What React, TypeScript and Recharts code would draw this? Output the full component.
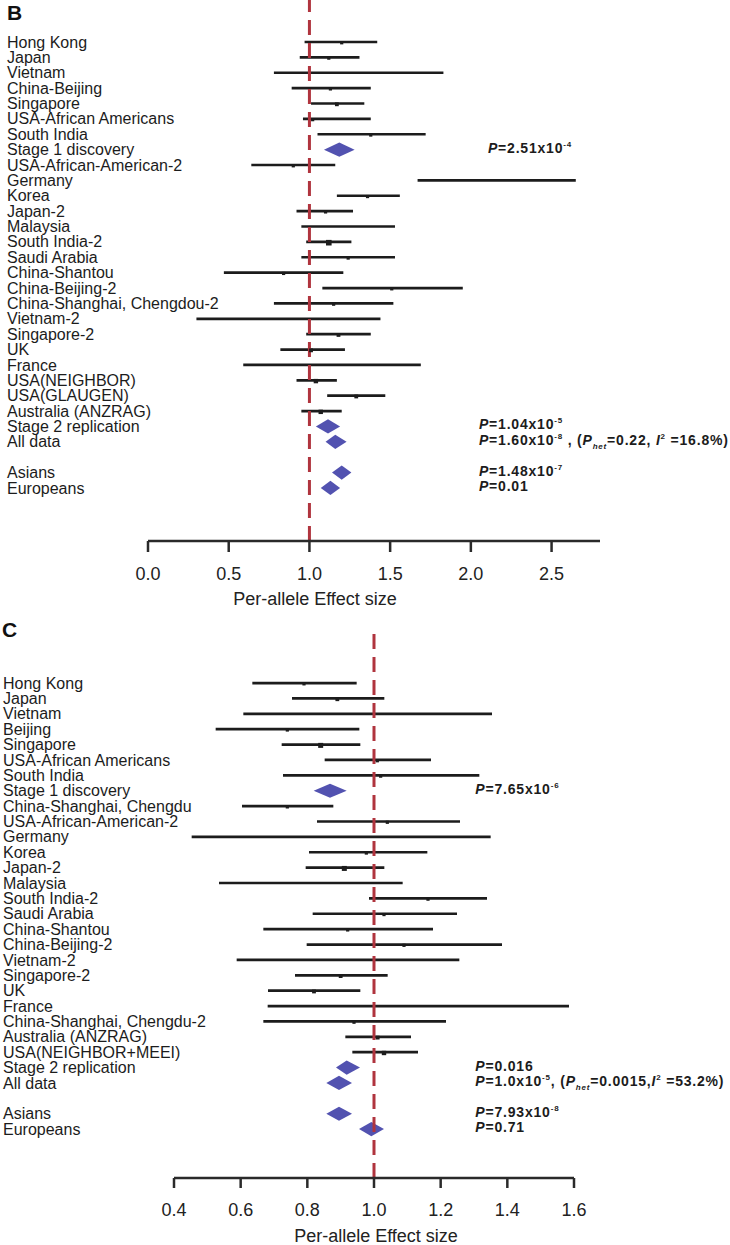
import React from 'react'
import {
  ScatterChart, Scatter, XAxis, YAxis, ReferenceLine, ReferenceArea, ReferenceDot,
} from 'recharts'

const FONT = "'Liberation Sans', Arial, Helvetica, sans-serif"
const INK = '#1c1c1c'
const DIAMOND_FILL = '#5252b0'
const NULL_LINE = '#b0343e'

// rows that are pooled estimates (drawn as diamonds)
const POOLED = ['Stage 1 discovery', 'Stage 2 replication', 'All data', 'Asians', 'Europeans']

// ── Panel B ────────────────────────────────────────────────────────────────
const B_LABELS = [
  'Hong Kong', 'Japan', 'Vietnam', 'China-Beijing', 'Singapore', 'USA-African Americans',
  'South India', 'Stage 1 discovery', 'USA-African-American-2', 'Germany', 'Korea', 'Japan-2',
  'Malaysia', 'South India-2', 'Saudi Arabia', 'China-Shantou', 'China-Beijing-2',
  'China-Shanghai, Chengdou-2', 'Vietnam-2', 'Singapore-2', 'UK', 'France', 'USA(NEIGHBOR)',
  'USA(GLAUGEN)', 'Australia (ANZRAG)', 'Stage 2 replication', 'All data', '', 'Asians', 'Europeans',
]
const B_EST = [1.20, 1.12, 1.20, 1.13, 1.17, 1.02, 1.38, 1.185, 0.90, 2.10, 1.36, 1.10, 1.20, 1.12, 1.24,
  0.84, 1.51, 1.15, 0.66, 1.18, 1.01, 1.02, 1.04, 1.29, 1.07, 1.115, 1.16, null, 1.20, 1.13]
const B_LO = [0.97, 0.94, 0.78, 0.89, 1.01, 0.96, 1.05, 1.09, 0.64, 1.67, 1.17, 0.92, 0.95, 0.98, 0.95,
  0.47, 1.08, 0.78, 0.30, 0.98, 0.82, 0.59, 0.92, 1.11, 0.95, 1.04, 1.10, null, 1.14, 1.07]
const B_HI = [1.42, 1.31, 1.83, 1.38, 1.34, 1.38, 1.72, 1.28, 1.16, 2.65, 1.56, 1.27, 1.53, 1.26, 1.53,
  1.21, 1.95, 1.52, 1.44, 1.38, 1.22, 1.69, 1.17, 1.47, 1.20, 1.19, 1.23, null, 1.26, 1.19]
// relative study weight (0 = marker too small to see)
const B_WEIGHT = [1, 1, 0, 1, 1.5, 1, 1, 0, 1, 0, 1, 1, 0, 3, 1, 1, 1, 1, 0, 1.5, 1.5, 0, 2, 1.5, 2, 0, 0, 0, 0, 0]
const B_TICKS = [0, 0.5, 1, 1.5, 2, 2.5]
const B_P_MANT = ['2.51', '1.04', '1.60', '1.48', '0.01']
const B_P_EXP = ['-4', '-5', '-8', '-7', '']
const B_HET = ['0.22', '16.8%']

// ── Panel C ────────────────────────────────────────────────────────────────
const C_LABELS = [
  'Hong Kong', 'Japan', 'Vietnam', 'Beijing', 'Singapore', 'USA-African Americans', 'South India',
  'Stage 1 discovery', 'China-Shanghai, Chengdu', 'USA-African-American-2', 'Germany', 'Korea',
  'Japan-2', 'Malaysia', 'South India-2', 'Saudi Arabia', 'China-Shantou', 'China-Beijing-2',
  'Vietnam-2', 'Singapore-2', 'UK', 'France', 'China-Shanghai, Chengdu-2', 'Australia (ANZRAG)',
  'USA(NEIGHBOR+MEEI)', 'Stage 2 replication', 'All data', '', 'Asians', 'Europeans',
]
const C_EST = [0.79, 0.89, 0.92, 0.74, 0.84, 1.01, 1.02, 0.868, 0.74, 1.04, 0.78, 0.977, 0.911, 0.77,
  1.162, 1.03, 0.921, 1.09, 0.86, 0.90, 0.82, 1.04, 0.94, 1.011, 1.03, 0.918, 0.895, null, 0.895, 0.992]
const C_LO = [0.635, 0.754, 0.608, 0.525, 0.723, 0.852, 0.727, 0.819, 0.604, 0.829, 0.453, 0.805, 0.795,
  0.535, 0.985, 0.816, 0.668, 0.798, 0.588, 0.763, 0.682, 0.681, 0.668, 0.914, 0.935, 0.886, 0.857, null,
  0.857, 0.955]
const C_HI = [0.948, 1.031, 1.354, 0.956, 0.959, 1.171, 1.316, 0.918, 0.878, 1.258, 1.35, 1.16, 1.031,
  1.086, 1.339, 1.249, 1.177, 1.384, 1.256, 1.041, 0.959, 1.585, 1.216, 1.111, 1.132, 0.958, 0.934, null,
  0.934, 1.03]
const C_WEIGHT = [1, 1.5, 0, 1, 2.5, 1, 1, 0, 1, 1, 0, 1, 2.5, 0, 1, 1, 1, 1, 0, 1.5, 1.5, 0, 1, 1.5, 2, 0, 0, 0, 0, 0]
const C_TICKS = [0.4, 0.6, 0.8, 1.0, 1.2, 1.4, 1.6]
const C_P_MANT = ['7.65', '0.016', '1.0', '7.93', '0.71']
const C_P_EXP = ['-6', '', '-5', '-8', '']
const C_HET = ['0.0015', '53.2%']

interface Row { row: number; label: string; est: number; lo: number; hi: number; w: number; pooled: boolean }

function buildRows(labels: string[], est: any[], lo: any[], hi: any[], w: number[]): Row[] {
  return labels
    .map((label, i) => ({ row: i, label, est: est[i], lo: lo[i], hi: hi[i], w: w[i], pooled: POOLED.includes(label) }))
    .filter((r) => r.label !== '')
}

// ── Shapes ─────────────────────────────────────────────────────────────────
function LabelTick({ y, payload, labelX, names }: any) {
  return (
    <text x={labelX} y={y} dy="0.35em" fontFamily={FONT} fontSize={16} fill={INK} textAnchor="start">
      {names[payload.value]}
    </text>
  )
}

function PanelLetter({ letter, lx, ly }: any) {
  return (
    <text x={lx} y={ly} fontFamily={FONT} fontSize={21} fontWeight="bold" fill="#111">{letter}</text>
  )
}

function Diamond({ x, y, width, height, frac }: any) {
  const cx = x + width * frac
  const cy = y + height / 2
  return <polygon points={`${x},${cy} ${cx},${y} ${x + width},${cy} ${cx},${y + height}`} fill={DIAMOND_FILL} />
}

function Marker({ cx, cy, payload }: any) {
  const s = 2 + 1.2 * payload.w
  return <rect x={cx - s / 2} y={cy - s / 2 + 0.8} width={s} height={s} fill={INK} />
}

function PText({ cx, cy, mant, exp, het, hetGap, iGap }: any) {
  return (
    <text x={cx} y={cy + 3} fontFamily={FONT} fontSize={14} fontWeight="bold" fill={INK}
      style={{ letterSpacing: 0.8, whiteSpace: 'pre' }}>
      <tspan fontStyle="italic">P</tspan>
      <tspan>={mant}</tspan>
      {exp && <tspan>x10</tspan>}
      {exp && <tspan dy={-6} fontSize={8}>{exp}</tspan>}
      {het && <tspan dy={6}>{hetGap}</tspan>}
      {het && <tspan fontStyle="italic">P</tspan>}
      {het && <tspan dy={4} fontSize={8} fontStyle="italic">het</tspan>}
      {het && <tspan dy={-4}>={het[0]},{iGap}</tspan>}
      {het && <tspan fontStyle="italic">I</tspan>}
      {het && <tspan dy={-6} fontSize={8}>2</tspan>}
      {het && <tspan dy={6}> ={het[1]})</tspan>}
    </text>
  )
}

// ── Panel ──────────────────────────────────────────────────────────────────
function ForestPanel(p: any) {
  const rows: Row[] = p.rows
  const names: Record<number, string> = {}
  rows.forEach((r) => { names[r.row] = r.label })
  const studies = rows.filter((r) => !r.pooled)
  const pooled = rows.filter((r) => r.pooled)

  return (
    <ScatterChart width={730} height={p.height} margin={p.margin}>
      <XAxis
        type="number"
        dataKey="est"
        domain={p.xDomain}
        ticks={p.xTicks}
        allowDataOverflow
        interval={0}
        tickFormatter={(v: number) => v.toFixed(1)}
        height={p.xAxisHeight}
        axisLine={{ stroke: '#2a2a2a', strokeWidth: 2.5 }}
        tickLine={{ stroke: '#2a2a2a', strokeWidth: 2.5 }}
        tickSize={p.tickSize}
        tickMargin={15}
        tick={{ fontSize: 18, fill: '#222', fontFamily: FONT }}
        label={{ value: 'Per-allele Effect size', position: 'insideBottom', offset: p.titleOffset, dx: p.titleDx, fontSize: 18, fill: '#222', fontFamily: FONT }}
      />
      <YAxis
        type="number"
        dataKey="row"
        domain={p.yDomain}
        reversed
        allowDataOverflow
        ticks={rows.map((r) => r.row)}
        interval={0}
        width={p.yAxisWidth}
        axisLine={false}
        tickLine={false}
        tick={<LabelTick labelX={p.labelX} names={names} />}
        label={<PanelLetter letter={p.letter} lx={p.letterX} ly={p.letterY} />}
      />
      {studies.map((r) => (
        <ReferenceLine
          key={`ci-${r.row}`}
          segment={[{ x: r.lo, y: r.row }, { x: r.hi, y: r.row }]}
          stroke={INK}
          strokeWidth={2.7}
          ifOverflow="visible"
        />
      ))}
      <Scatter data={studies.filter((r) => r.w > 0)} shape={<Marker />} isAnimationActive={false} />
      <ReferenceLine x={1} stroke={NULL_LINE} strokeWidth={3} strokeDasharray="15 8" />
      {pooled.map((r) => (
        <ReferenceArea
          key={`dm-${r.row}`}
          x1={r.lo}
          x2={r.hi}
          y1={r.row - 0.46}
          y2={r.row + 0.46}
          ifOverflow="visible"
          shape={(sp: any) => <Diamond {...sp} frac={(r.est - r.lo) / (r.hi - r.lo)} />}
        />
      ))}
      {pooled.map((r, i) => (
        <ReferenceDot
          key={`pv-${r.row}`}
          x={p.annotX}
          y={r.row}
          ifOverflow="visible"
          shape={(sp: any) => (
            <PText
              cx={sp.cx + (i === 0 ? p.firstDx : 0)}
              cy={sp.cy}
              mant={p.pMant[i]}
              exp={p.pExp[i]}
              het={r.label === 'All data' ? p.het : null}
              hetGap={p.hetGap}
              iGap={p.iGap}
            />
          )}
        />
      ))}
    </ScatterChart>
  )
}

export default function App() {
  const bRows = buildRows(B_LABELS, B_EST, B_LO, B_HI, B_WEIGHT)
  const cRows = buildRows(C_LABELS, C_EST, C_LO, C_HI, C_WEIGHT)
  return (
    <div style={{ position: 'fixed', left: 0, top: 0, width: 730, height: 1245, background: '#fff' }}>
      <ForestPanel
        letter="B" letterX={7} letterY={20}
        rows={bRows} height={610}
        margin={{ top: 0, right: 130, bottom: 0, left: 0 }}
        yAxisWidth={148} yDomain={[-2.73, 32.45]}
        xDomain={[0, 2.8]} xTicks={B_TICKS} xAxisHeight={69} tickSize={11}
        titleOffset={5} titleDx={-59} labelX={7}
        annotX={2.05} firstDx={9} pMant={B_P_MANT} pExp={B_P_EXP} het={B_HET} hetGap=" , (" iGap=" "
      />
      <ForestPanel
        letter="C" letterX={2} letterY={27}
        rows={cRows} height={635}
        margin={{ top: 22, right: 156, bottom: 0, left: 0 }}
        yAxisWidth={174} yDomain={[-3.32, 32.18]}
        xDomain={[0.4, 1.6]} xTicks={C_TICKS} xAxisHeight={67} tickSize={10}
        titleOffset={3} titleDx={2} labelX={3}
        annotX={1.304} firstDx={0} pMant={C_P_MANT} pExp={C_P_EXP} het={C_HET} hetGap=", (" iGap=""
      />
    </div>
  )
}
